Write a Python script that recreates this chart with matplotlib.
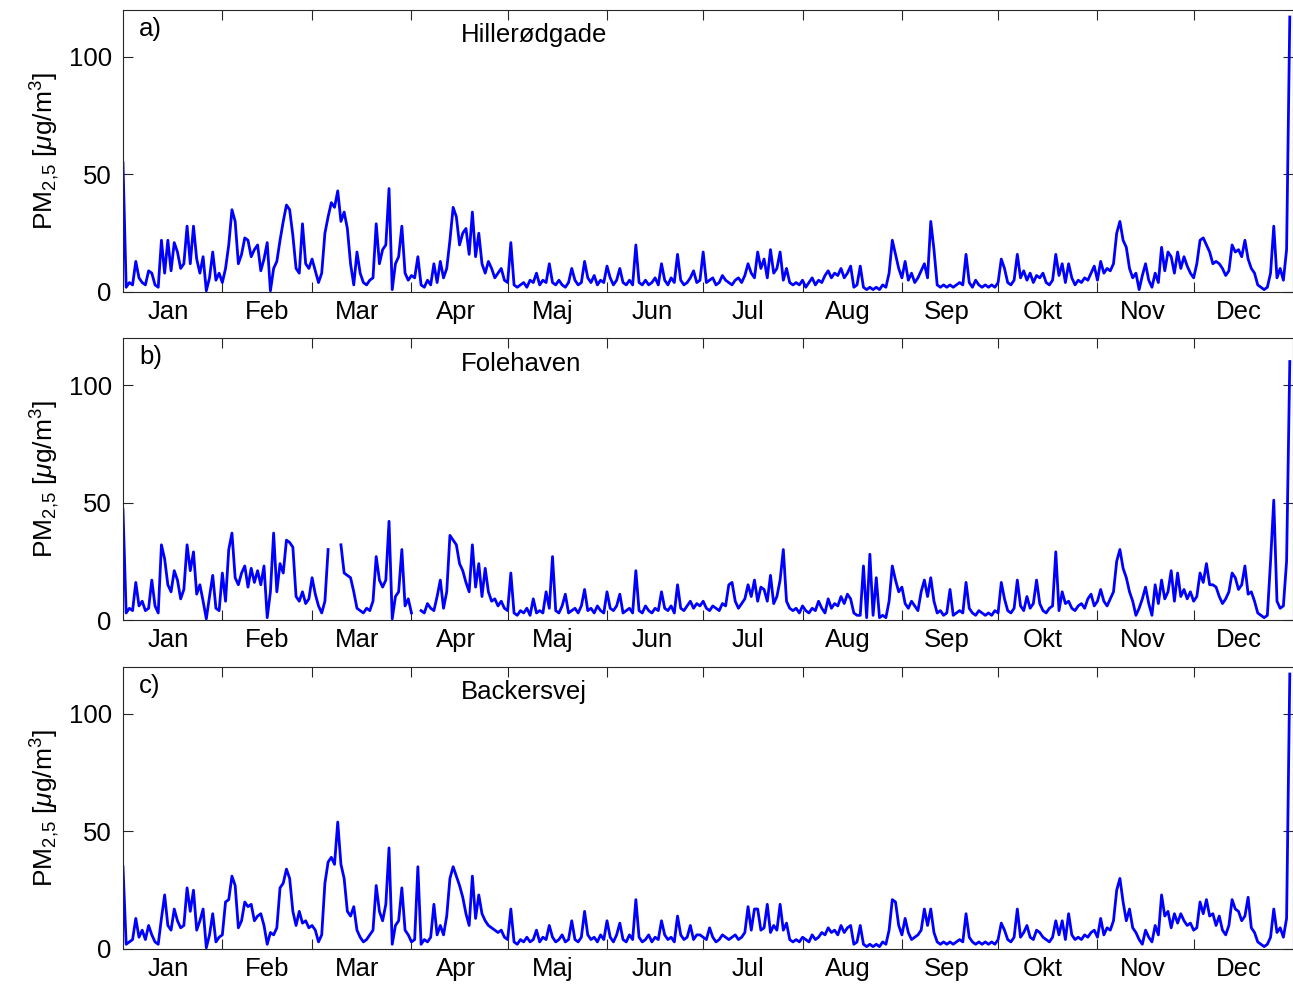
import numpy as np
import matplotlib
matplotlib.use("Agg")
import matplotlib.pyplot as plt

plt.rcParams['font.family'] = ['Liberation Sans', 'DejaVu Sans']
plt.rcParams['mathtext.fontset'] = 'custom'
plt.rcParams['mathtext.rm'] = 'Liberation Sans'
plt.rcParams['mathtext.it'] = 'Liberation Sans:italic'

# day of year, daily PM2.5 values [ug/m3]
days = np.arange(365)

months = ["Jan", "Feb", "Mar", "Apr", "Maj", "Jun",
          "Jul", "Aug", "Sep", "Okt", "Nov", "Dec"]
month_len = [31, 28, 31, 30, 31, 30, 31, 31, 30, 31, 30, 31]

stations = ["Hillerødgade", "Folehaven", "Backersvej"]
panel_tags = ["a)", "b)", "c)"]

hillerodgade = [
    55, 2, 4, 3, 13, 6, 4, 3, 9, 8,
    3, 2, 22, 8, 22, 9, 21, 17, 10, 12,
    28, 12, 28, 14, 8, 15, 0.5, 6, 17, 5,
    8, 4, 10, 20, 35, 30, 12, 16, 23, 22,
    15, 18, 20, 9, 14, 21, 0.5, 10, 13, 22,
    30, 37, 35, 24, 10, 8, 29, 12, 10, 14,
    9, 4, 8, 25, 32, 38, 36, 43, 30, 34,
    27, 12, 3, 17, 8, 4, 3, 5, 6, 29,
    12, 18, 20, 44, 1, 12, 15, 28, 8, 5,
    7, 6, 15, 3, 2, 5, 3, 12, 4, 13,
    6, 10, 22, 36, 32, 20, 25, 27, 16, 34,
    15, 25, 12, 8, 13, 10, 6, 8, 10, 5,
    4, 21, 3, 2, 3, 4, 2, 5, 4, 8,
    3, 5, 4, 12, 4, 3, 5, 3, 2, 4,
    10, 5, 3, 4, 13, 6, 4, 7, 3, 5,
    4, 11, 6, 3, 5, 10, 4, 3, 5, 3,
    20, 4, 3, 5, 3, 4, 6, 3, 12, 5,
    3, 6, 4, 16, 5, 3, 4, 6, 9, 4,
    5, 17, 4, 5, 6, 3, 4, 7, 5, 4,
    3, 5, 6, 4, 7, 12, 8, 6, 17, 10,
    14, 6, 18, 8, 10, 17, 5, 10, 4, 3,
    4, 3, 5, 2, 4, 6, 3, 5, 4, 7,
    9, 6, 8, 7, 10, 6, 8, 11, 2, 3,
    11, 2, 1, 2, 1, 2, 1, 3, 2, 8,
    22, 16, 10, 6, 13, 5, 8, 4, 6, 9,
    12, 6, 30, 18, 3, 2, 3, 2, 3, 2,
    3, 4, 3, 16, 4, 2, 5, 3, 2, 3,
    2, 3, 2, 4, 14, 10, 4, 3, 5, 16,
    6, 9, 5, 8, 4, 7, 6, 8, 4, 3,
    5, 16, 7, 12, 4, 12, 6, 3, 5, 4,
    6, 5, 8, 11, 5, 13, 8, 10, 9, 12,
    25, 30, 22, 19, 10, 6, 8, 1, 7, 12,
    5, 2, 8, 4, 19, 9, 17, 15, 8, 17,
    10, 15, 11, 8, 6, 12, 22, 23, 20, 17,
    12, 13, 12, 10, 7, 9, 20, 17, 18, 15,
    22, 14, 10, 8, 3, 2, 1, 2, 8, 28,
    6, 10, 5, 18, 117,
]

nan = np.nan
folehaven = [
    47, 3, 5, 4, 16, 6, 8, 4, 5, 17,
    6, 3, 32, 26, 15, 12, 21, 17, 9, 13,
    32, 21, 29, 11, 15, 8, 0.5, 10, 19, 5,
    4, 20, 8, 30, 37, 18, 15, 20, 23, 14,
    22, 16, 21, 15, 23, 1, 12, 37, 12, 24,
    20, 34, 33, 31, 10, 8, 12, 7, 9, 18,
    11, 6, 3, 8, 30, nan, nan, nan, 32, 20,
    19, 18, 12, 5, 4, 3, 5, 4, 8, 27,
    17, 14, 17, 42, 0.5, 10, 12, 30, 6, 9,
    3, nan, nan, 4, 3, 7, 5, 4, 10, 17,
    5, 12, 36, 34, 32, 24, 21, 16, 12, 32,
    14, 24, 10, 22, 12, 8, 9, 6, 8, 5,
    4, 20, 3, 2, 4, 3, 5, 2, 9, 3,
    4, 3, 12, 5, 27, 4, 3, 6, 11, 3,
    4, 5, 3, 6, 13, 4, 5, 3, 6, 4,
    3, 12, 5, 4, 6, 11, 3, 4, 5, 3,
    21, 4, 3, 6, 4, 3, 5, 4, 12, 5,
    4, 6, 3, 15, 5, 4, 6, 8, 5, 7,
    6, 8, 5, 4, 6, 5, 4, 7, 6, 15,
    16, 8, 5, 7, 9, 15, 10, 17, 8, 14,
    13, 8, 19, 7, 10, 17, 30, 8, 5, 4,
    5, 3, 6, 4, 3, 5, 4, 8, 5, 3,
    9, 5, 7, 6, 10, 7, 11, 9, 3, 2,
    2, 23, 1, 28, 2, 18, 1, 2, 1, 8,
    23, 17, 12, 14, 7, 5, 8, 6, 4, 12,
    17, 10, 18, 8, 3, 4, 2, 3, 13, 2,
    3, 4, 3, 16, 5, 3, 2, 4, 3, 2,
    3, 2, 4, 3, 16, 9, 4, 3, 5, 17,
    6, 4, 10, 5, 7, 17, 7, 4, 3, 5,
    6, 29, 4, 12, 7, 8, 5, 4, 6, 7,
    5, 9, 11, 6, 8, 13, 8, 6, 9, 12,
    25, 30, 22, 18, 12, 8, 2, 5, 9, 14,
    7, 2, 15, 7, 17, 9, 12, 21, 8, 20,
    10, 13, 9, 12, 8, 10, 20, 16, 24, 15,
    15, 14, 10, 7, 9, 12, 20, 18, 13, 15,
    23, 11, 12, 8, 3, 2, 1, 2, 25, 51,
    8, 5, 6, 25, 110,
]

backersvej = [
    35, 2, 3, 4, 13, 5, 8, 4, 10, 6,
    3, 2, 13, 23, 10, 8, 17, 12, 9, 10,
    26, 16, 25, 8, 12, 17, 0.5, 6, 15, 3,
    5, 6, 20, 21, 31, 27, 9, 12, 20, 18,
    19, 12, 14, 15, 10, 2, 7, 6, 9, 26,
    28, 34, 30, 16, 10, 16, 11, 12, 9, 10,
    8, 3, 6, 28, 37, 39, 36, 54, 36, 30,
    16, 14, 18, 8, 5, 3, 4, 6, 8, 27,
    16, 12, 19, 43, 2, 10, 12, 26, 8, 6,
    3, 4, 35, 2, 4, 3, 5, 19, 6, 10,
    6, 14, 30, 35, 31, 27, 22, 15, 10, 31,
    13, 23, 15, 12, 10, 9, 8, 7, 8, 5,
    4, 17, 3, 2, 4, 3, 5, 3, 4, 8,
    3, 5, 4, 10, 5, 3, 4, 6, 3, 4,
    12, 4, 3, 5, 16, 6, 4, 5, 3, 6,
    4, 12, 5, 3, 6, 11, 4, 3, 6, 4,
    21, 5, 3, 4, 6, 3, 5, 4, 12, 6,
    4, 5, 3, 14, 6, 4, 5, 10, 4, 6,
    6, 5, 4, 9, 5, 3, 4, 6, 5, 4,
    5, 6, 4, 5, 7, 18, 8, 17, 17, 8,
    9, 19, 7, 10, 8, 19, 8, 11, 4, 3,
    4, 3, 5, 4, 3, 6, 4, 5, 7, 6,
    9, 7, 8, 6, 10, 7, 9, 10, 2, 3,
    10, 2, 1, 2, 1, 2, 1, 3, 2, 8,
    21, 20, 10, 6, 13, 7, 4, 5, 6, 8,
    17, 10, 17, 7, 3, 2, 3, 2, 3, 2,
    3, 4, 3, 15, 5, 3, 2, 3, 2, 3,
    2, 3, 2, 4, 11, 8, 4, 3, 5, 17,
    5, 7, 10, 5, 4, 8, 7, 5, 4, 3,
    5, 12, 6, 12, 4, 15, 6, 4, 5, 4,
    6, 5, 7, 8, 5, 13, 6, 9, 8, 12,
    25, 30, 20, 12, 17, 9, 7, 4, 2, 8,
    5, 3, 10, 6, 23, 14, 16, 9, 15, 11,
    15, 12, 10, 11, 8, 9, 20, 15, 21, 14,
    15, 10, 14, 8, 6, 10, 21, 17, 16, 12,
    14, 22, 9, 7, 3, 2, 1, 2, 5, 17,
    7, 9, 5, 13, 117,
]

series = [hillerodgade, folehaven, backersvej]

month_start = np.cumsum([0] + month_len[:-1])
# labels sit about two weeks into each month
label_pos = month_start + 14

fig = plt.figure(figsize=(12.93, 9.84), dpi=100)
axc = '#262626'

# panel positions [left, bottom, width, height] in figure fractions
bottoms = [0.7033, 0.3699, 0.0356]
for i in range(3):
    ax = fig.add_axes([0.0951, bottoms[i], 0.9049, 0.2866])
    ax.plot(days, series[i], color=(0, 0, 1), lw=2.0)
    ax.set_xlim(0, 365)
    ax.set_ylim(0, 120)
    ax.set_yticks([0, 50, 100])
    ax.set_xticks(month_start[1:])
    ax.set_xticklabels([])
    ax.set_xticks(label_pos, minor=True)
    ax.set_xticklabels(months, minor=True)
    ax.tick_params(which='major', direction='in', length=7, width=0.8,
                   top=True, right=True, color=axc, labelsize=18.5, pad=8)
    ax.tick_params(which='minor', length=0, labelsize=18.5, pad=6)
    for s in ax.spines.values():
        s.set_color(axc)
        s.set_linewidth(0.8)
    ax.set_ylabel(r'PM$_{2{,}5}$ [$\mathit{\mu}$g/m$^3$]', fontsize=19, labelpad=5)
    ax.text(0.014, 0.975, panel_tags[i], transform=ax.transAxes,
            fontsize=18.5, va='top', ha='left')
    ax.text(0.289, 0.952, stations[i], transform=ax.transAxes,
            fontsize=18.5, va='top', ha='left')

fig.savefig("out.png", dpi=100)
